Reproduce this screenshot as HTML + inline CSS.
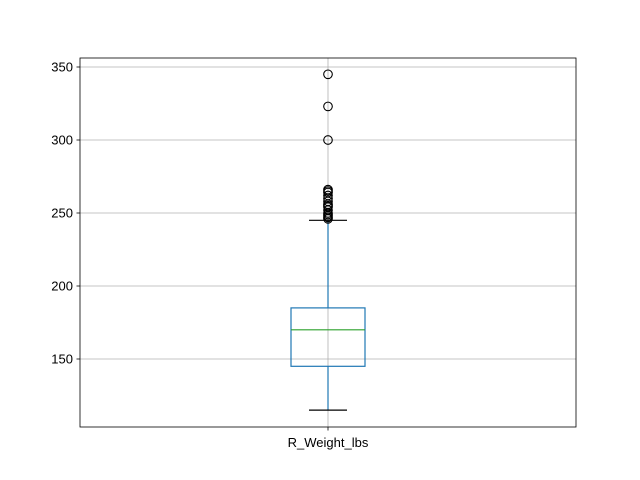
<!DOCTYPE html>
<html><head><meta charset="utf-8"><style>body{margin:0;background:#fff}svg{display:block;font-family:"Liberation Sans",sans-serif}</style></head>
<body>
<svg id="chart" width="640" height="480"></svg>
<script>
const categories=["R_Weight_lbs"];
const whiskerLow=[115];
const q1=[145];
const median=[170];
const q3=[185];
const whiskerHigh=[245];
const outliers=[[246,247,248,249,250,252,254,255,256,258,260,262,264,265,266,300,323,345]];
const yTicks=[150,200,250,300,350];
const NS="http://www.w3.org/2000/svg";
const svg=document.getElementById('chart');
const L=80,R=576,T=58,B=427;
const y=v=>359-(v-150)*1.46;
const xc=i=>L+(R-L)*(i+0.5)/categories.length;
function mk(tag,attrs,parent){const e=document.createElementNS(NS,tag);for(const k in attrs)e.setAttribute(k,attrs[k]);(parent||svg).appendChild(e);return e;}
const grid=mk('g',{});


yTicks.forEach(t=>{
  const l=mk('line',{x1:L,x2:R,y1:y(t),y2:y(t),stroke:'#b0b0b0','stroke-width':0.8},grid);
  
  
  mk('line',{x1:L-3.5,x2:L,y1:y(t),y2:y(t),stroke:'#000','stroke-width':0.8});
  const tx=mk('text',{x:L-7,y:y(t)+4.5,'text-anchor':'end','font-size':13});
  tx.textContent=t;
  
  
});
categories.forEach((c,i)=>{
  const x=xc(i),w=37;
  const vg=mk('line',{x1:x,x2:x,y1:T,y2:B,stroke:'#b0b0b0','stroke-width':0.8},grid);
  
  
  const g=mk('g',{});
  
  
  mk('line',{x1:x,x2:x,y1:y(q1[i]),y2:y(whiskerLow[i]),stroke:'#1f77b4','stroke-width':1.2},g);
  mk('line',{x1:x,x2:x,y1:y(q3[i]),y2:y(whiskerHigh[i]),stroke:'#1f77b4','stroke-width':1.2},g);
  mk('line',{x1:x-19,x2:x+19,y1:y(whiskerLow[i]),y2:y(whiskerLow[i]),stroke:'#000','stroke-width':1.2},g);
  mk('line',{x1:x-19,x2:x+19,y1:y(whiskerHigh[i]),y2:y(whiskerHigh[i]),stroke:'#000','stroke-width':1.2},g);
  mk('rect',{x:x-w,y:y(q3[i]),width:2*w,height:y(q1[i])-y(q3[i]),fill:'none',stroke:'#1f77b4','stroke-width':1.2},g);
  mk('line',{x1:x-w,x2:x+w,y1:y(median[i]),y2:y(median[i]),stroke:'#2ca02c','stroke-width':1.2},g);
  outliers[i].forEach(v=>{
    const o=mk('circle',{cx:x,cy:y(v),r:4.3,fill:'none',stroke:'#000','stroke-width':1.1},g);
    
    
  });
  mk('line',{x1:x,x2:x,y1:B,y2:B+3.5,stroke:'#000','stroke-width':0.8});
  const tx=mk('text',{x:x,y:B+20,'text-anchor':'middle','font-size':13});
  tx.textContent=c;
  
  
});
const frame=mk('rect',{x:L,y:T,width:R-L,height:B-T,fill:'none',stroke:'#000','stroke-width':0.8});


</script>
</body></html>
